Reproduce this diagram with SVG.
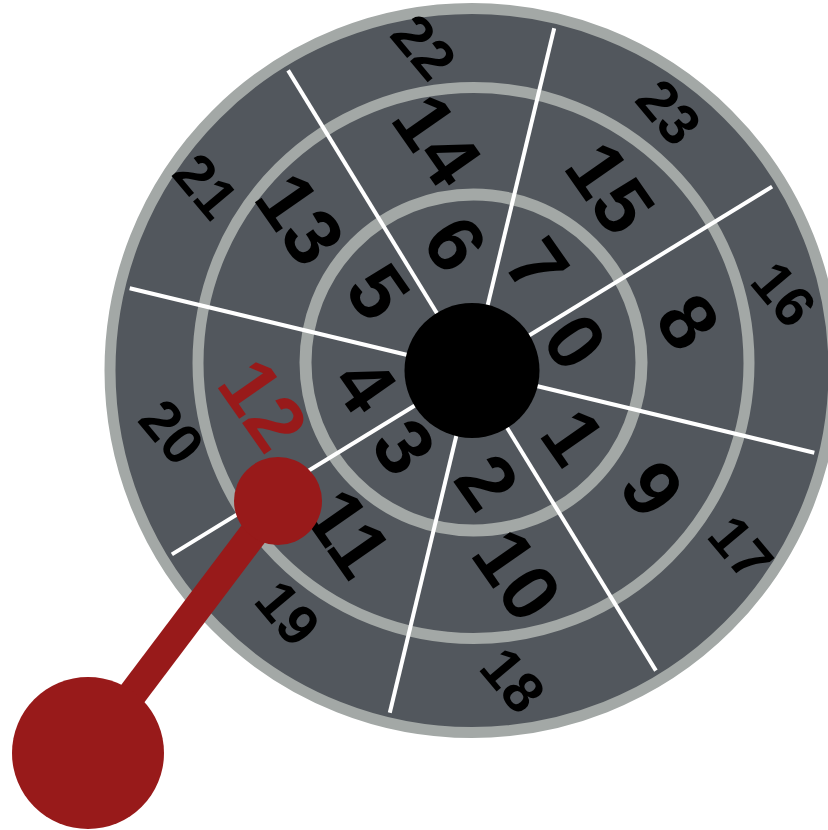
<svg xmlns="http://www.w3.org/2000/svg" width="828" height="830" viewBox="0 0 828 830">
<style>
.ring{fill:none;stroke:#a3a8a6}
.spoke{stroke:#ffffff;stroke-width:4;stroke-linecap:butt}
.lbl{font-family:Arial,'Liberation Sans',Helvetica,sans-serif;font-weight:700;text-anchor:middle;dominant-baseline:central;fill:#000000}
.o{font-size:57px}
.m{font-size:80px}
.i{font-size:80px}
.red{fill:#981a1a}
.ptr{fill:#981a1a}
</style>
<g id="face">
<circle cx="472" cy="370.5" r="362" fill="#52575d" stroke="#a3a8a6" stroke-width="11"/>
</g>
<g id="rings">
<circle id="ring-middle" class="ring" cx="473.5" cy="363" r="275.5" stroke-width="11"/>
<circle id="ring-inner" class="ring" cx="473.5" cy="362.5" r="168" stroke-width="12"/>
</g>
<g id="connectors">
<line class="spoke" x1="472" y1="370.5" x2="814.3" y2="452.7"/>
<line class="spoke" x1="472" y1="370.5" x2="655.9" y2="670.6"/>
<line class="spoke" x1="472" y1="370.5" x2="389.8" y2="712.8"/>
<line class="spoke" x1="472" y1="370.5" x2="171.9" y2="554.4"/>
<line class="spoke" x1="472" y1="370.5" x2="129.7" y2="288.3"/>
<line class="spoke" x1="472" y1="370.5" x2="288.1" y2="70.4"/>
<line class="spoke" x1="472" y1="370.5" x2="554.2" y2="28.2"/>
<line class="spoke" x1="472" y1="370.5" x2="772.1" y2="186.6"/>
</g>
<g id="labels-inner" font-family="Arial, 'Liberation Sans', Helvetica, sans-serif" font-weight="bold">
<g id="n0"><text class="lbl i" transform="translate(575 342) rotate(55)">0</text></g>
<g id="n1"><text class="lbl i" transform="translate(573 437) rotate(55)">1</text></g>
<g id="n2"><text class="lbl i" transform="translate(487 482) rotate(55)">2</text></g>
<g id="n3"><text class="lbl i" transform="translate(404 447) rotate(55)">3</text></g>
<g id="n4"><text class="lbl i" transform="translate(365 385) rotate(55)">4</text></g>
<g id="n5"><text class="lbl i" transform="translate(378 292) rotate(55)">5</text></g>
<g id="n6"><text class="lbl i" transform="translate(455 244) rotate(55)">6</text></g>
<g id="n7"><text class="lbl i" transform="translate(537 266) rotate(55)">7</text></g>
</g>
<g id="labels-middle" font-family="Arial, 'Liberation Sans', Helvetica, sans-serif" font-weight="bold">
<g id="n8"><text class="lbl m" transform="translate(688 322) rotate(55)">8</text></g>
<g id="n9"><text class="lbl m" transform="translate(652 489) rotate(55)">9</text></g>
<g id="n10"><text class="lbl m" transform="translate(517 575) rotate(55)">10</text></g>
<g id="n11"><text class="lbl m" transform="translate(348 533) rotate(55)">11</text></g>
<g id="n12"><text class="lbl m red" transform="translate(263 405) rotate(55)">12</text></g>
<g id="n13"><text class="lbl m" transform="translate(300 219) rotate(55)">13</text></g>
<g id="n14"><text class="lbl m" transform="translate(437 140) rotate(55)">14</text></g>
<g id="n15"><text class="lbl m" transform="translate(610 188) rotate(55)">15</text></g>
</g>
<g id="labels-outer" font-family="Arial, 'Liberation Sans', Helvetica, sans-serif" font-weight="bold">
<g id="n16"><text class="lbl o" transform="translate(784 294) rotate(50)">16</text></g>
<g id="n17"><text class="lbl o" transform="translate(741 548) rotate(50)">17</text></g>
<g id="n18"><text class="lbl o" transform="translate(513 680) rotate(50)">18</text></g>
<g id="n19"><text class="lbl o" transform="translate(288 613) rotate(50)">19</text></g>
<g id="n20"><text class="lbl o" transform="translate(172 432) rotate(50)">20</text></g>
<g id="n21"><text class="lbl o" transform="translate(206 186) rotate(50)">21</text></g>
<g id="n22"><text class="lbl o" transform="translate(424 47) rotate(50)">22</text></g>
<g id="n23"><text class="lbl o" transform="translate(669 112) rotate(50)">23</text></g>
</g>
<g id="hub">
<circle cx="472" cy="370.5" r="67.5" fill="#000000"/>
</g>
<g id="pointer">
<line x1="88" y1="753" x2="278" y2="501" stroke="#981a1a" stroke-width="29"/>
<circle class="ptr" cx="88" cy="753" r="76"/>
<circle class="ptr" cx="278" cy="501" r="44"/>
</g>
</svg>
